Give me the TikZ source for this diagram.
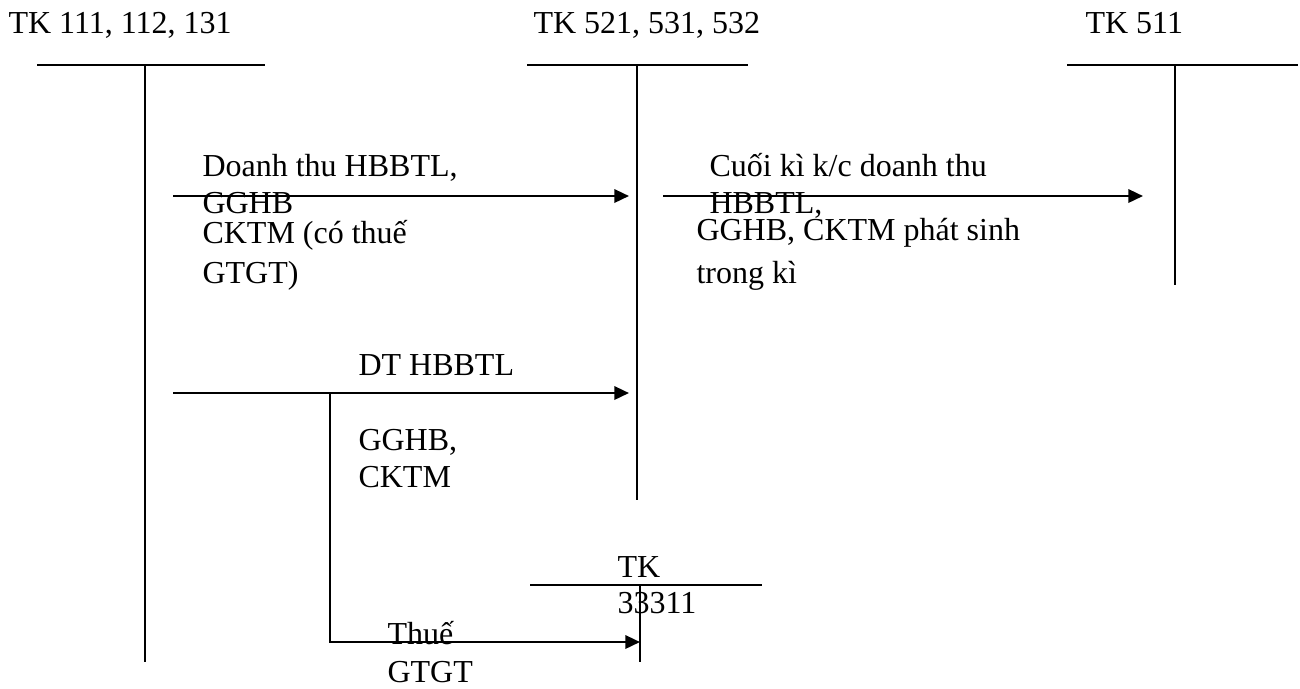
\documentclass[tikz,border=0pt]{standalone}
\usepackage{fontspec}
\setmainfont{Liberation Serif}
\usetikzlibrary{arrows.meta}

\begin{document}
\begin{tikzpicture}[x=0.375pt, y=-0.375pt,
  tline/.style={line width=0.9pt},
  flow/.style={line width=0.9pt, -{Triangle[length=5.5pt,width=5pt]}},
  lbl/.style={anchor=base west, inner sep=0pt, font=\fontsize{12}{14}\selectfont}]
  \useasboundingbox (0,0) rectangle (1300,688);

  % --- T-accounts ---
  \node[lbl] (tkcash) at (8,33) {TK 111, 112, 131};
  \draw[tline] (37,65) -- (265,65);
  \draw[tline] (145,65) -- (145,662);

  \node[lbl] (tkdisc) at (533,33) {TK 521, 531, 532};
  \draw[tline] (527,65) -- (748,65);
  \draw[tline] (637,65) -- (637,500);

  \node[lbl] (tkrev) at (1085,33) {TK 511};
  \draw[tline] (1067,65) -- (1298,65);
  \draw[tline] (1175,65) -- (1175,285);

  \node[lbl] (tkvat) at (617,577) {TK};
  \node[lbl] (tkvatno) at (617,613) {33311};
  \draw[tline] (530,585) -- (762,585);
  \draw[tline] (640,585) -- (640,662);

  % --- Flow 1: discounts paid ---
  \coordinate (d1s) at (173,196);
  \coordinate (d1e) at (629,196);
  \draw[flow] (d1s) -- (d1e);
  \node[lbl] (d1a) at (202,176) {Doanh thu HBBTL,};
  \node[lbl] (d1b) at (202,213) {GGHB};
  \node[lbl] (d1c) at (202,243) {CKTM (có thuế};
  \node[lbl] (d1d) at (202,283) {GTGT)};

  % --- Flow 2: closing transfer ---
  \coordinate (k1s) at (663,196);
  \coordinate (k1e) at (1143,196);
  \draw[flow] (k1s) -- (k1e);
  \node[lbl] (k1a) at (709,176) {Cuối kì k/c doanh thu};
  \node[lbl] (k1b) at (709,213) {HBBTL,};
  \node[lbl] (k1c) at (696,240) {GGHB, CKTM phát sinh};
  \node[lbl] (k1d) at (696,283) {trong kì};

  % --- Flow 3: net discount and VAT ---
  \coordinate (n1s) at (173,393);
  \coordinate (n1e) at (629,393);
  \draw[flow] (n1s) -- (n1e);
  \node[lbl] (n1a) at (358,375) {DT HBBTL};
  \node[lbl] (n1b) at (358,450) {GGHB,};
  \node[lbl] (n1c) at (358,487) {CKTM};

  \coordinate (v1s) at (330,393);
  \coordinate (v1m) at (330,642);
  \coordinate (v1e) at (640,642);
  \draw[flow] (v1s) -- (v1m) -- (v1e);
  \node[lbl] (v1a) at (387,644) {Thuế};
  \node[lbl] (v1b) at (387,682) {GTGT};
\end{tikzpicture}
\end{document}
